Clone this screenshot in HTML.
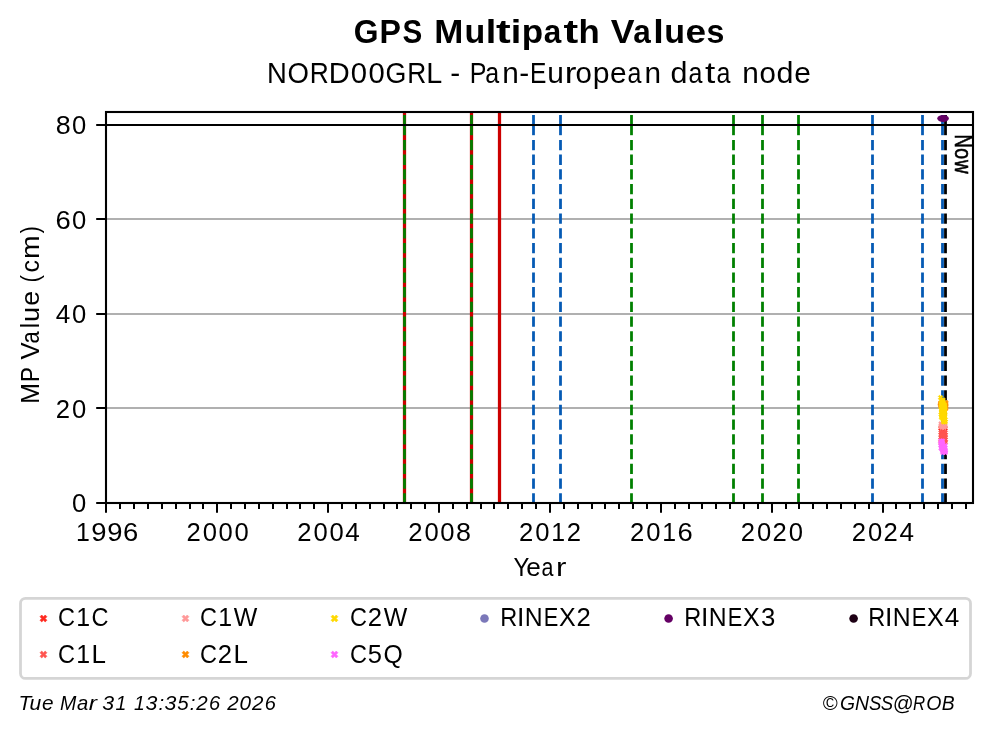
<!DOCTYPE html>
<html><head><meta charset="utf-8"><style>
html,body{margin:0;padding:0;background:#fff;width:993px;height:734px;overflow:hidden}
svg{display:block;will-change:transform}
text{font-family:"Liberation Sans",sans-serif;fill:#000}
</style></head><body>
<svg width="993" height="734" viewBox="0 0 993 734">
<rect width="993" height="734" fill="#fff"/>
<line x1="106" y1="408" x2="973" y2="408" stroke="#b0b0b0" stroke-width="2.1"/>
<line x1="106" y1="314" x2="973" y2="314" stroke="#b0b0b0" stroke-width="2.1"/>
<line x1="106" y1="219" x2="973" y2="219" stroke="#b0b0b0" stroke-width="2.1"/>
<line x1="404.5" y1="112" x2="404.5" y2="503" stroke="#cc0000" stroke-width="3.25"/>
<line x1="471.5" y1="112" x2="471.5" y2="503" stroke="#cc0000" stroke-width="3.25"/>
<line x1="499.5" y1="112" x2="499.5" y2="503" stroke="#cc0000" stroke-width="3.25"/>
<line x1="404.5" y1="115.0" x2="404.5" y2="135.2" stroke="#008000" stroke-width="2.78"/>
<line x1="404.5" y1="139.9" x2="404.5" y2="503" stroke="#008000" stroke-width="2.78" stroke-dasharray="10.28 4.44"/>
<line x1="471.5" y1="115.0" x2="471.5" y2="135.2" stroke="#008000" stroke-width="2.78"/>
<line x1="471.5" y1="139.9" x2="471.5" y2="503" stroke="#008000" stroke-width="2.78" stroke-dasharray="10.28 4.44"/>
<line x1="631.5" y1="115.0" x2="631.5" y2="135.2" stroke="#008000" stroke-width="2.78"/>
<line x1="631.5" y1="139.9" x2="631.5" y2="503" stroke="#008000" stroke-width="2.78" stroke-dasharray="10.28 4.44"/>
<line x1="733.5" y1="115.0" x2="733.5" y2="135.2" stroke="#008000" stroke-width="2.78"/>
<line x1="733.5" y1="139.9" x2="733.5" y2="503" stroke="#008000" stroke-width="2.78" stroke-dasharray="10.28 4.44"/>
<line x1="762.5" y1="115.0" x2="762.5" y2="135.2" stroke="#008000" stroke-width="2.78"/>
<line x1="762.5" y1="139.9" x2="762.5" y2="503" stroke="#008000" stroke-width="2.78" stroke-dasharray="10.28 4.44"/>
<line x1="798.5" y1="115.0" x2="798.5" y2="135.2" stroke="#008000" stroke-width="2.78"/>
<line x1="798.5" y1="139.9" x2="798.5" y2="503" stroke="#008000" stroke-width="2.78" stroke-dasharray="10.28 4.44"/>
<line x1="533.5" y1="115.0" x2="533.5" y2="135.2" stroke="#055ab4" stroke-width="2.78"/>
<line x1="533.5" y1="139.9" x2="533.5" y2="503" stroke="#055ab4" stroke-width="2.78" stroke-dasharray="10.28 4.44"/>
<line x1="560.5" y1="115.0" x2="560.5" y2="135.2" stroke="#055ab4" stroke-width="2.78"/>
<line x1="560.5" y1="139.9" x2="560.5" y2="503" stroke="#055ab4" stroke-width="2.78" stroke-dasharray="10.28 4.44"/>
<line x1="872.5" y1="115.0" x2="872.5" y2="135.2" stroke="#055ab4" stroke-width="2.78"/>
<line x1="872.5" y1="139.9" x2="872.5" y2="503" stroke="#055ab4" stroke-width="2.78" stroke-dasharray="10.28 4.44"/>
<line x1="922.5" y1="115.0" x2="922.5" y2="135.2" stroke="#055ab4" stroke-width="2.78"/>
<line x1="922.5" y1="139.9" x2="922.5" y2="503" stroke="#055ab4" stroke-width="2.78" stroke-dasharray="10.28 4.44"/>
<line x1="942.5" y1="115.0" x2="942.5" y2="135.2" stroke="#055ab4" stroke-width="2.78"/>
<line x1="942.5" y1="139.9" x2="942.5" y2="503" stroke="#055ab4" stroke-width="2.78" stroke-dasharray="10.28 4.44"/>
<line x1="945.5" y1="115.0" x2="945.5" y2="135.2" stroke="#000" stroke-width="2.78"/>
<line x1="945.5" y1="139.9" x2="945.5" y2="503" stroke="#000" stroke-width="2.78" stroke-dasharray="10.28 4.44"/>
<line x1="106" y1="125" x2="973" y2="125" stroke="#000" stroke-width="2.1"/>
<polygon points="939.85,425.50 941.00,426.65 942.15,425.50 943.30,426.65 942.15,427.80 943.30,428.95 942.15,430.10 941.00,428.95 939.85,430.10 938.70,428.95 939.85,427.80 938.70,426.65" fill="#ff2a20" stroke="#ff2a20" stroke-width="0.8" stroke-linejoin="round"/>
<polygon points="941.85,425.50 943.00,426.65 944.15,425.50 945.30,426.65 944.15,427.80 945.30,428.95 944.15,430.10 943.00,428.95 941.85,430.10 940.70,428.95 941.85,427.80 940.70,426.65" fill="#ff2a20" stroke="#ff2a20" stroke-width="0.8" stroke-linejoin="round"/>
<polygon points="943.85,425.50 945.00,426.65 946.15,425.50 947.30,426.65 946.15,427.80 947.30,428.95 946.15,430.10 945.00,428.95 943.85,430.10 942.70,428.95 943.85,427.80 942.70,426.65" fill="#ff2a20" stroke="#ff2a20" stroke-width="0.8" stroke-linejoin="round"/>
<polygon points="939.85,426.30 941.00,427.45 942.15,426.30 943.30,427.45 942.15,428.60 943.30,429.75 942.15,430.90 941.00,429.75 939.85,430.90 938.70,429.75 939.85,428.60 938.70,427.45" fill="#ff2a20" stroke="#ff2a20" stroke-width="0.8" stroke-linejoin="round"/>
<polygon points="941.85,426.30 943.00,427.45 944.15,426.30 945.30,427.45 944.15,428.60 945.30,429.75 944.15,430.90 943.00,429.75 941.85,430.90 940.70,429.75 941.85,428.60 940.70,427.45" fill="#ff2a20" stroke="#ff2a20" stroke-width="0.8" stroke-linejoin="round"/>
<polygon points="943.85,426.30 945.00,427.45 946.15,426.30 947.30,427.45 946.15,428.60 947.30,429.75 946.15,430.90 945.00,429.75 943.85,430.90 942.70,429.75 943.85,428.60 942.70,427.45" fill="#ff2a20" stroke="#ff2a20" stroke-width="0.8" stroke-linejoin="round"/>
<polygon points="939.85,430.20 941.00,431.35 942.15,430.20 943.30,431.35 942.15,432.50 943.30,433.65 942.15,434.80 941.00,433.65 939.85,434.80 938.70,433.65 939.85,432.50 938.70,431.35" fill="#ff5550" stroke="#ff5550" stroke-width="0.8" stroke-linejoin="round"/>
<polygon points="942.05,430.20 943.20,431.35 944.35,430.20 945.50,431.35 944.35,432.50 945.50,433.65 944.35,434.80 943.20,433.65 942.05,434.80 940.90,433.65 942.05,432.50 940.90,431.35" fill="#ff5550" stroke="#ff5550" stroke-width="0.8" stroke-linejoin="round"/>
<polygon points="944.15,430.20 945.30,431.35 946.45,430.20 947.60,431.35 946.45,432.50 947.60,433.65 946.45,434.80 945.30,433.65 944.15,434.80 943.00,433.65 944.15,432.50 943.00,431.35" fill="#ff5550" stroke="#ff5550" stroke-width="0.8" stroke-linejoin="round"/>
<polygon points="940.85,431.40 942.00,432.55 943.15,431.40 944.30,432.55 943.15,433.70 944.30,434.85 943.15,436.00 942.00,434.85 940.85,436.00 939.70,434.85 940.85,433.70 939.70,432.55" fill="#ff5550" stroke="#ff5550" stroke-width="0.8" stroke-linejoin="round"/>
<polygon points="943.15,431.40 944.30,432.55 945.45,431.40 946.60,432.55 945.45,433.70 946.60,434.85 945.45,436.00 944.30,434.85 943.15,436.00 942.00,434.85 943.15,433.70 942.00,432.55" fill="#ff5550" stroke="#ff5550" stroke-width="0.8" stroke-linejoin="round"/>
<polygon points="939.85,432.60 941.00,433.75 942.15,432.60 943.30,433.75 942.15,434.90 943.30,436.05 942.15,437.20 941.00,436.05 939.85,437.20 938.70,436.05 939.85,434.90 938.70,433.75" fill="#ff5550" stroke="#ff5550" stroke-width="0.8" stroke-linejoin="round"/>
<polygon points="942.05,432.60 943.20,433.75 944.35,432.60 945.50,433.75 944.35,434.90 945.50,436.05 944.35,437.20 943.20,436.05 942.05,437.20 940.90,436.05 942.05,434.90 940.90,433.75" fill="#ff5550" stroke="#ff5550" stroke-width="0.8" stroke-linejoin="round"/>
<polygon points="944.15,432.60 945.30,433.75 946.45,432.60 947.60,433.75 946.45,434.90 947.60,436.05 946.45,437.20 945.30,436.05 944.15,437.20 943.00,436.05 944.15,434.90 943.00,433.75" fill="#ff5550" stroke="#ff5550" stroke-width="0.8" stroke-linejoin="round"/>
<polygon points="940.85,433.80 942.00,434.95 943.15,433.80 944.30,434.95 943.15,436.10 944.30,437.25 943.15,438.40 942.00,437.25 940.85,438.40 939.70,437.25 940.85,436.10 939.70,434.95" fill="#ff5550" stroke="#ff5550" stroke-width="0.8" stroke-linejoin="round"/>
<polygon points="943.15,433.80 944.30,434.95 945.45,433.80 946.60,434.95 945.45,436.10 946.60,437.25 945.45,438.40 944.30,437.25 943.15,438.40 942.00,437.25 943.15,436.10 942.00,434.95" fill="#ff5550" stroke="#ff5550" stroke-width="0.8" stroke-linejoin="round"/>
<polygon points="939.85,435.00 941.00,436.15 942.15,435.00 943.30,436.15 942.15,437.30 943.30,438.45 942.15,439.60 941.00,438.45 939.85,439.60 938.70,438.45 939.85,437.30 938.70,436.15" fill="#ff5550" stroke="#ff5550" stroke-width="0.8" stroke-linejoin="round"/>
<polygon points="942.05,435.00 943.20,436.15 944.35,435.00 945.50,436.15 944.35,437.30 945.50,438.45 944.35,439.60 943.20,438.45 942.05,439.60 940.90,438.45 942.05,437.30 940.90,436.15" fill="#ff5550" stroke="#ff5550" stroke-width="0.8" stroke-linejoin="round"/>
<polygon points="944.15,435.00 945.30,436.15 946.45,435.00 947.60,436.15 946.45,437.30 947.60,438.45 946.45,439.60 945.30,438.45 944.15,439.60 943.00,438.45 944.15,437.30 943.00,436.15" fill="#ff5550" stroke="#ff5550" stroke-width="0.8" stroke-linejoin="round"/>
<polygon points="940.85,436.20 942.00,437.35 943.15,436.20 944.30,437.35 943.15,438.50 944.30,439.65 943.15,440.80 942.00,439.65 940.85,440.80 939.70,439.65 940.85,438.50 939.70,437.35" fill="#ff5550" stroke="#ff5550" stroke-width="0.8" stroke-linejoin="round"/>
<polygon points="943.15,436.20 944.30,437.35 945.45,436.20 946.60,437.35 945.45,438.50 946.60,439.65 945.45,440.80 944.30,439.65 943.15,440.80 942.00,439.65 943.15,438.50 942.00,437.35" fill="#ff5550" stroke="#ff5550" stroke-width="0.8" stroke-linejoin="round"/>
<polygon points="939.85,437.40 941.00,438.55 942.15,437.40 943.30,438.55 942.15,439.70 943.30,440.85 942.15,442.00 941.00,440.85 939.85,442.00 938.70,440.85 939.85,439.70 938.70,438.55" fill="#ff5550" stroke="#ff5550" stroke-width="0.8" stroke-linejoin="round"/>
<polygon points="942.05,437.40 943.20,438.55 944.35,437.40 945.50,438.55 944.35,439.70 945.50,440.85 944.35,442.00 943.20,440.85 942.05,442.00 940.90,440.85 942.05,439.70 940.90,438.55" fill="#ff5550" stroke="#ff5550" stroke-width="0.8" stroke-linejoin="round"/>
<polygon points="944.15,437.40 945.30,438.55 946.45,437.40 947.60,438.55 946.45,439.70 947.60,440.85 946.45,442.00 945.30,440.85 944.15,442.00 943.00,440.85 944.15,439.70 943.00,438.55" fill="#ff5550" stroke="#ff5550" stroke-width="0.8" stroke-linejoin="round"/>
<polygon points="940.85,438.60 942.00,439.75 943.15,438.60 944.30,439.75 943.15,440.90 944.30,442.05 943.15,443.20 942.00,442.05 940.85,443.20 939.70,442.05 940.85,440.90 939.70,439.75" fill="#ff5550" stroke="#ff5550" stroke-width="0.8" stroke-linejoin="round"/>
<polygon points="943.15,438.60 944.30,439.75 945.45,438.60 946.60,439.75 945.45,440.90 946.60,442.05 945.45,443.20 944.30,442.05 943.15,443.20 942.00,442.05 943.15,440.90 942.00,439.75" fill="#ff5550" stroke="#ff5550" stroke-width="0.8" stroke-linejoin="round"/>
<polygon points="939.85,439.80 941.00,440.95 942.15,439.80 943.30,440.95 942.15,442.10 943.30,443.25 942.15,444.40 941.00,443.25 939.85,444.40 938.70,443.25 939.85,442.10 938.70,440.95" fill="#ff5550" stroke="#ff5550" stroke-width="0.8" stroke-linejoin="round"/>
<polygon points="942.05,439.80 943.20,440.95 944.35,439.80 945.50,440.95 944.35,442.10 945.50,443.25 944.35,444.40 943.20,443.25 942.05,444.40 940.90,443.25 942.05,442.10 940.90,440.95" fill="#ff5550" stroke="#ff5550" stroke-width="0.8" stroke-linejoin="round"/>
<polygon points="944.15,439.80 945.30,440.95 946.45,439.80 947.60,440.95 946.45,442.10 947.60,443.25 946.45,444.40 945.30,443.25 944.15,444.40 943.00,443.25 944.15,442.10 943.00,440.95" fill="#ff5550" stroke="#ff5550" stroke-width="0.8" stroke-linejoin="round"/>
<polygon points="940.85,441.00 942.00,442.15 943.15,441.00 944.30,442.15 943.15,443.30 944.30,444.45 943.15,445.60 942.00,444.45 940.85,445.60 939.70,444.45 940.85,443.30 939.70,442.15" fill="#ff5550" stroke="#ff5550" stroke-width="0.8" stroke-linejoin="round"/>
<polygon points="943.15,441.00 944.30,442.15 945.45,441.00 946.60,442.15 945.45,443.30 946.60,444.45 945.45,445.60 944.30,444.45 943.15,445.60 942.00,444.45 943.15,443.30 942.00,442.15" fill="#ff5550" stroke="#ff5550" stroke-width="0.8" stroke-linejoin="round"/>
<polygon points="939.85,421.50 941.00,422.65 942.15,421.50 943.30,422.65 942.15,423.80 943.30,424.95 942.15,426.10 941.00,424.95 939.85,426.10 938.70,424.95 939.85,423.80 938.70,422.65" fill="#ff9999" stroke="#ff9999" stroke-width="0.8" stroke-linejoin="round"/>
<polygon points="941.85,421.50 943.00,422.65 944.15,421.50 945.30,422.65 944.15,423.80 945.30,424.95 944.15,426.10 943.00,424.95 941.85,426.10 940.70,424.95 941.85,423.80 940.70,422.65" fill="#ff9999" stroke="#ff9999" stroke-width="0.8" stroke-linejoin="round"/>
<polygon points="943.85,421.50 945.00,422.65 946.15,421.50 947.30,422.65 946.15,423.80 947.30,424.95 946.15,426.10 945.00,424.95 943.85,426.10 942.70,424.95 943.85,423.80 942.70,422.65" fill="#ff9999" stroke="#ff9999" stroke-width="0.8" stroke-linejoin="round"/>
<polygon points="940.85,422.70 942.00,423.85 943.15,422.70 944.30,423.85 943.15,425.00 944.30,426.15 943.15,427.30 942.00,426.15 940.85,427.30 939.70,426.15 940.85,425.00 939.70,423.85" fill="#ff9999" stroke="#ff9999" stroke-width="0.8" stroke-linejoin="round"/>
<polygon points="942.85,422.70 944.00,423.85 945.15,422.70 946.30,423.85 945.15,425.00 946.30,426.15 945.15,427.30 944.00,426.15 942.85,427.30 941.70,426.15 942.85,425.00 941.70,423.85" fill="#ff9999" stroke="#ff9999" stroke-width="0.8" stroke-linejoin="round"/>
<polygon points="939.85,423.90 941.00,425.05 942.15,423.90 943.30,425.05 942.15,426.20 943.30,427.35 942.15,428.50 941.00,427.35 939.85,428.50 938.70,427.35 939.85,426.20 938.70,425.05" fill="#ff9999" stroke="#ff9999" stroke-width="0.8" stroke-linejoin="round"/>
<polygon points="941.85,423.90 943.00,425.05 944.15,423.90 945.30,425.05 944.15,426.20 945.30,427.35 944.15,428.50 943.00,427.35 941.85,428.50 940.70,427.35 941.85,426.20 940.70,425.05" fill="#ff9999" stroke="#ff9999" stroke-width="0.8" stroke-linejoin="round"/>
<polygon points="943.85,423.90 945.00,425.05 946.15,423.90 947.30,425.05 946.15,426.20 947.30,427.35 946.15,428.50 945.00,427.35 943.85,428.50 942.70,427.35 943.85,426.20 942.70,425.05" fill="#ff9999" stroke="#ff9999" stroke-width="0.8" stroke-linejoin="round"/>
<polygon points="940.85,425.10 942.00,426.25 943.15,425.10 944.30,426.25 943.15,427.40 944.30,428.55 943.15,429.70 942.00,428.55 940.85,429.70 939.70,428.55 940.85,427.40 939.70,426.25" fill="#ff9999" stroke="#ff9999" stroke-width="0.8" stroke-linejoin="round"/>
<polygon points="942.85,425.10 944.00,426.25 945.15,425.10 946.30,426.25 945.15,427.40 946.30,428.55 945.15,429.70 944.00,428.55 942.85,429.70 941.70,428.55 942.85,427.40 941.70,426.25" fill="#ff9999" stroke="#ff9999" stroke-width="0.8" stroke-linejoin="round"/>
<polygon points="939.35,400.90 940.50,402.05 941.65,400.90 942.80,402.05 941.65,403.20 942.80,404.35 941.65,405.50 940.50,404.35 939.35,405.50 938.20,404.35 939.35,403.20 938.20,402.05" fill="#ff8c00" stroke="#ff8c00" stroke-width="0.8" stroke-linejoin="round"/>
<polygon points="939.35,402.10 940.50,403.25 941.65,402.10 942.80,403.25 941.65,404.40 942.80,405.55 941.65,406.70 940.50,405.55 939.35,406.70 938.20,405.55 939.35,404.40 938.20,403.25" fill="#ff8c00" stroke="#ff8c00" stroke-width="0.8" stroke-linejoin="round"/>
<polygon points="939.35,403.30 940.50,404.45 941.65,403.30 942.80,404.45 941.65,405.60 942.80,406.75 941.65,407.90 940.50,406.75 939.35,407.90 938.20,406.75 939.35,405.60 938.20,404.45" fill="#ff8c00" stroke="#ff8c00" stroke-width="0.8" stroke-linejoin="round"/>
<polygon points="944.65,400.20 945.80,401.35 946.95,400.20 948.10,401.35 946.95,402.50 948.10,403.65 946.95,404.80 945.80,403.65 944.65,404.80 943.50,403.65 944.65,402.50 943.50,401.35" fill="#ff8c00" stroke="#ff8c00" stroke-width="0.8" stroke-linejoin="round"/>
<polygon points="944.65,401.70 945.80,402.85 946.95,401.70 948.10,402.85 946.95,404.00 948.10,405.15 946.95,406.30 945.80,405.15 944.65,406.30 943.50,405.15 944.65,404.00 943.50,402.85" fill="#ff8c00" stroke="#ff8c00" stroke-width="0.8" stroke-linejoin="round"/>
<polygon points="944.65,403.20 945.80,404.35 946.95,403.20 948.10,404.35 946.95,405.50 948.10,406.65 946.95,407.80 945.80,406.65 944.65,407.80 943.50,406.65 944.65,405.50 943.50,404.35" fill="#ff8c00" stroke="#ff8c00" stroke-width="0.8" stroke-linejoin="round"/>
<polygon points="944.65,404.70 945.80,405.85 946.95,404.70 948.10,405.85 946.95,407.00 948.10,408.15 946.95,409.30 945.80,408.15 944.65,409.30 943.50,408.15 944.65,407.00 943.50,405.85" fill="#ff8c00" stroke="#ff8c00" stroke-width="0.8" stroke-linejoin="round"/>
<polygon points="944.65,406.20 945.80,407.35 946.95,406.20 948.10,407.35 946.95,408.50 948.10,409.65 946.95,410.80 945.80,409.65 944.65,410.80 943.50,409.65 944.65,408.50 943.50,407.35" fill="#ff8c00" stroke="#ff8c00" stroke-width="0.8" stroke-linejoin="round"/>
<polygon points="939.45,395.30 940.60,396.45 941.75,395.30 942.90,396.45 941.75,397.60 942.90,398.75 941.75,399.90 940.60,398.75 939.45,399.90 938.30,398.75 939.45,397.60 938.30,396.45" fill="#ffd900" stroke="#ffd900" stroke-width="0.8" stroke-linejoin="round"/>
<polygon points="940.65,397.70 941.80,398.85 942.95,397.70 944.10,398.85 942.95,400.00 944.10,401.15 942.95,402.30 941.80,401.15 940.65,402.30 939.50,401.15 940.65,400.00 939.50,398.85" fill="#ffd900" stroke="#ffd900" stroke-width="0.8" stroke-linejoin="round"/>
<polygon points="941.85,397.70 943.00,398.85 944.15,397.70 945.30,398.85 944.15,400.00 945.30,401.15 944.15,402.30 943.00,401.15 941.85,402.30 940.70,401.15 941.85,400.00 940.70,398.85" fill="#ffd900" stroke="#ffd900" stroke-width="0.8" stroke-linejoin="round"/>
<polygon points="940.65,398.90 941.80,400.05 942.95,398.90 944.10,400.05 942.95,401.20 944.10,402.35 942.95,403.50 941.80,402.35 940.65,403.50 939.50,402.35 940.65,401.20 939.50,400.05" fill="#ffd900" stroke="#ffd900" stroke-width="0.8" stroke-linejoin="round"/>
<polygon points="941.85,398.90 943.00,400.05 944.15,398.90 945.30,400.05 944.15,401.20 945.30,402.35 944.15,403.50 943.00,402.35 941.85,403.50 940.70,402.35 941.85,401.20 940.70,400.05" fill="#ffd900" stroke="#ffd900" stroke-width="0.8" stroke-linejoin="round"/>
<polygon points="940.65,400.10 941.80,401.25 942.95,400.10 944.10,401.25 942.95,402.40 944.10,403.55 942.95,404.70 941.80,403.55 940.65,404.70 939.50,403.55 940.65,402.40 939.50,401.25" fill="#ffd900" stroke="#ffd900" stroke-width="0.8" stroke-linejoin="round"/>
<polygon points="941.85,400.10 943.00,401.25 944.15,400.10 945.30,401.25 944.15,402.40 945.30,403.55 944.15,404.70 943.00,403.55 941.85,404.70 940.70,403.55 941.85,402.40 940.70,401.25" fill="#ffd900" stroke="#ffd900" stroke-width="0.8" stroke-linejoin="round"/>
<polygon points="940.65,401.30 941.80,402.45 942.95,401.30 944.10,402.45 942.95,403.60 944.10,404.75 942.95,405.90 941.80,404.75 940.65,405.90 939.50,404.75 940.65,403.60 939.50,402.45" fill="#ffd900" stroke="#ffd900" stroke-width="0.8" stroke-linejoin="round"/>
<polygon points="941.85,401.30 943.00,402.45 944.15,401.30 945.30,402.45 944.15,403.60 945.30,404.75 944.15,405.90 943.00,404.75 941.85,405.90 940.70,404.75 941.85,403.60 940.70,402.45" fill="#ffd900" stroke="#ffd900" stroke-width="0.8" stroke-linejoin="round"/>
<polygon points="940.15,402.70 941.30,403.85 942.45,402.70 943.60,403.85 942.45,405.00 943.60,406.15 942.45,407.30 941.30,406.15 940.15,407.30 939.00,406.15 940.15,405.00 939.00,403.85" fill="#ffd900" stroke="#ffd900" stroke-width="0.8" stroke-linejoin="round"/>
<polygon points="942.15,402.70 943.30,403.85 944.45,402.70 945.60,403.85 944.45,405.00 945.60,406.15 944.45,407.30 943.30,406.15 942.15,407.30 941.00,406.15 942.15,405.00 941.00,403.85" fill="#ffd900" stroke="#ffd900" stroke-width="0.8" stroke-linejoin="round"/>
<polygon points="943.45,402.70 944.60,403.85 945.75,402.70 946.90,403.85 945.75,405.00 946.90,406.15 945.75,407.30 944.60,406.15 943.45,407.30 942.30,406.15 943.45,405.00 942.30,403.85" fill="#ffd900" stroke="#ffd900" stroke-width="0.8" stroke-linejoin="round"/>
<polygon points="941.15,403.90 942.30,405.05 943.45,403.90 944.60,405.05 943.45,406.20 944.60,407.35 943.45,408.50 942.30,407.35 941.15,408.50 940.00,407.35 941.15,406.20 940.00,405.05" fill="#ffd900" stroke="#ffd900" stroke-width="0.8" stroke-linejoin="round"/>
<polygon points="943.25,403.90 944.40,405.05 945.55,403.90 946.70,405.05 945.55,406.20 946.70,407.35 945.55,408.50 944.40,407.35 943.25,408.50 942.10,407.35 943.25,406.20 942.10,405.05" fill="#ffd900" stroke="#ffd900" stroke-width="0.8" stroke-linejoin="round"/>
<polygon points="940.15,405.10 941.30,406.25 942.45,405.10 943.60,406.25 942.45,407.40 943.60,408.55 942.45,409.70 941.30,408.55 940.15,409.70 939.00,408.55 940.15,407.40 939.00,406.25" fill="#ffd900" stroke="#ffd900" stroke-width="0.8" stroke-linejoin="round"/>
<polygon points="942.15,405.10 943.30,406.25 944.45,405.10 945.60,406.25 944.45,407.40 945.60,408.55 944.45,409.70 943.30,408.55 942.15,409.70 941.00,408.55 942.15,407.40 941.00,406.25" fill="#ffd900" stroke="#ffd900" stroke-width="0.8" stroke-linejoin="round"/>
<polygon points="943.45,405.10 944.60,406.25 945.75,405.10 946.90,406.25 945.75,407.40 946.90,408.55 945.75,409.70 944.60,408.55 943.45,409.70 942.30,408.55 943.45,407.40 942.30,406.25" fill="#ffd900" stroke="#ffd900" stroke-width="0.8" stroke-linejoin="round"/>
<polygon points="941.15,406.30 942.30,407.45 943.45,406.30 944.60,407.45 943.45,408.60 944.60,409.75 943.45,410.90 942.30,409.75 941.15,410.90 940.00,409.75 941.15,408.60 940.00,407.45" fill="#ffd900" stroke="#ffd900" stroke-width="0.8" stroke-linejoin="round"/>
<polygon points="943.25,406.30 944.40,407.45 945.55,406.30 946.70,407.45 945.55,408.60 946.70,409.75 945.55,410.90 944.40,409.75 943.25,410.90 942.10,409.75 943.25,408.60 942.10,407.45" fill="#ffd900" stroke="#ffd900" stroke-width="0.8" stroke-linejoin="round"/>
<polygon points="940.15,407.50 941.30,408.65 942.45,407.50 943.60,408.65 942.45,409.80 943.60,410.95 942.45,412.10 941.30,410.95 940.15,412.10 939.00,410.95 940.15,409.80 939.00,408.65" fill="#ffd900" stroke="#ffd900" stroke-width="0.8" stroke-linejoin="round"/>
<polygon points="942.15,407.50 943.30,408.65 944.45,407.50 945.60,408.65 944.45,409.80 945.60,410.95 944.45,412.10 943.30,410.95 942.15,412.10 941.00,410.95 942.15,409.80 941.00,408.65" fill="#ffd900" stroke="#ffd900" stroke-width="0.8" stroke-linejoin="round"/>
<polygon points="943.45,407.50 944.60,408.65 945.75,407.50 946.90,408.65 945.75,409.80 946.90,410.95 945.75,412.10 944.60,410.95 943.45,412.10 942.30,410.95 943.45,409.80 942.30,408.65" fill="#ffd900" stroke="#ffd900" stroke-width="0.8" stroke-linejoin="round"/>
<polygon points="941.15,408.70 942.30,409.85 943.45,408.70 944.60,409.85 943.45,411.00 944.60,412.15 943.45,413.30 942.30,412.15 941.15,413.30 940.00,412.15 941.15,411.00 940.00,409.85" fill="#ffd900" stroke="#ffd900" stroke-width="0.8" stroke-linejoin="round"/>
<polygon points="943.25,408.70 944.40,409.85 945.55,408.70 946.70,409.85 945.55,411.00 946.70,412.15 945.55,413.30 944.40,412.15 943.25,413.30 942.10,412.15 943.25,411.00 942.10,409.85" fill="#ffd900" stroke="#ffd900" stroke-width="0.8" stroke-linejoin="round"/>
<polygon points="940.15,409.90 941.30,411.05 942.45,409.90 943.60,411.05 942.45,412.20 943.60,413.35 942.45,414.50 941.30,413.35 940.15,414.50 939.00,413.35 940.15,412.20 939.00,411.05" fill="#ffd900" stroke="#ffd900" stroke-width="0.8" stroke-linejoin="round"/>
<polygon points="942.15,409.90 943.30,411.05 944.45,409.90 945.60,411.05 944.45,412.20 945.60,413.35 944.45,414.50 943.30,413.35 942.15,414.50 941.00,413.35 942.15,412.20 941.00,411.05" fill="#ffd900" stroke="#ffd900" stroke-width="0.8" stroke-linejoin="round"/>
<polygon points="943.45,409.90 944.60,411.05 945.75,409.90 946.90,411.05 945.75,412.20 946.90,413.35 945.75,414.50 944.60,413.35 943.45,414.50 942.30,413.35 943.45,412.20 942.30,411.05" fill="#ffd900" stroke="#ffd900" stroke-width="0.8" stroke-linejoin="round"/>
<polygon points="941.15,411.10 942.30,412.25 943.45,411.10 944.60,412.25 943.45,413.40 944.60,414.55 943.45,415.70 942.30,414.55 941.15,415.70 940.00,414.55 941.15,413.40 940.00,412.25" fill="#ffd900" stroke="#ffd900" stroke-width="0.8" stroke-linejoin="round"/>
<polygon points="943.25,411.10 944.40,412.25 945.55,411.10 946.70,412.25 945.55,413.40 946.70,414.55 945.55,415.70 944.40,414.55 943.25,415.70 942.10,414.55 943.25,413.40 942.10,412.25" fill="#ffd900" stroke="#ffd900" stroke-width="0.8" stroke-linejoin="round"/>
<polygon points="940.15,412.30 941.30,413.45 942.45,412.30 943.60,413.45 942.45,414.60 943.60,415.75 942.45,416.90 941.30,415.75 940.15,416.90 939.00,415.75 940.15,414.60 939.00,413.45" fill="#ffd900" stroke="#ffd900" stroke-width="0.8" stroke-linejoin="round"/>
<polygon points="942.15,412.30 943.30,413.45 944.45,412.30 945.60,413.45 944.45,414.60 945.60,415.75 944.45,416.90 943.30,415.75 942.15,416.90 941.00,415.75 942.15,414.60 941.00,413.45" fill="#ffd900" stroke="#ffd900" stroke-width="0.8" stroke-linejoin="round"/>
<polygon points="943.45,412.30 944.60,413.45 945.75,412.30 946.90,413.45 945.75,414.60 946.90,415.75 945.75,416.90 944.60,415.75 943.45,416.90 942.30,415.75 943.45,414.60 942.30,413.45" fill="#ffd900" stroke="#ffd900" stroke-width="0.8" stroke-linejoin="round"/>
<polygon points="941.15,413.50 942.30,414.65 943.45,413.50 944.60,414.65 943.45,415.80 944.60,416.95 943.45,418.10 942.30,416.95 941.15,418.10 940.00,416.95 941.15,415.80 940.00,414.65" fill="#ffd900" stroke="#ffd900" stroke-width="0.8" stroke-linejoin="round"/>
<polygon points="943.25,413.50 944.40,414.65 945.55,413.50 946.70,414.65 945.55,415.80 946.70,416.95 945.55,418.10 944.40,416.95 943.25,418.10 942.10,416.95 943.25,415.80 942.10,414.65" fill="#ffd900" stroke="#ffd900" stroke-width="0.8" stroke-linejoin="round"/>
<polygon points="940.15,414.70 941.30,415.85 942.45,414.70 943.60,415.85 942.45,417.00 943.60,418.15 942.45,419.30 941.30,418.15 940.15,419.30 939.00,418.15 940.15,417.00 939.00,415.85" fill="#ffd900" stroke="#ffd900" stroke-width="0.8" stroke-linejoin="round"/>
<polygon points="942.15,414.70 943.30,415.85 944.45,414.70 945.60,415.85 944.45,417.00 945.60,418.15 944.45,419.30 943.30,418.15 942.15,419.30 941.00,418.15 942.15,417.00 941.00,415.85" fill="#ffd900" stroke="#ffd900" stroke-width="0.8" stroke-linejoin="round"/>
<polygon points="943.45,414.70 944.60,415.85 945.75,414.70 946.90,415.85 945.75,417.00 946.90,418.15 945.75,419.30 944.60,418.15 943.45,419.30 942.30,418.15 943.45,417.00 942.30,415.85" fill="#ffd900" stroke="#ffd900" stroke-width="0.8" stroke-linejoin="round"/>
<polygon points="941.15,415.90 942.30,417.05 943.45,415.90 944.60,417.05 943.45,418.20 944.60,419.35 943.45,420.50 942.30,419.35 941.15,420.50 940.00,419.35 941.15,418.20 940.00,417.05" fill="#ffd900" stroke="#ffd900" stroke-width="0.8" stroke-linejoin="round"/>
<polygon points="943.25,415.90 944.40,417.05 945.55,415.90 946.70,417.05 945.55,418.20 946.70,419.35 945.55,420.50 944.40,419.35 943.25,420.50 942.10,419.35 943.25,418.20 942.10,417.05" fill="#ffd900" stroke="#ffd900" stroke-width="0.8" stroke-linejoin="round"/>
<polygon points="942.35,417.20 943.50,418.35 944.65,417.20 945.80,418.35 944.65,419.50 945.80,420.65 944.65,421.80 943.50,420.65 942.35,421.80 941.20,420.65 942.35,419.50 941.20,418.35" fill="#ffd900" stroke="#ffd900" stroke-width="0.8" stroke-linejoin="round"/>
<polygon points="944.15,417.20 945.30,418.35 946.45,417.20 947.60,418.35 946.45,419.50 947.60,420.65 946.45,421.80 945.30,420.65 944.15,421.80 943.00,420.65 944.15,419.50 943.00,418.35" fill="#ffd900" stroke="#ffd900" stroke-width="0.8" stroke-linejoin="round"/>
<polygon points="942.85,418.40 944.00,419.55 945.15,418.40 946.30,419.55 945.15,420.70 946.30,421.85 945.15,423.00 944.00,421.85 942.85,423.00 941.70,421.85 942.85,420.70 941.70,419.55" fill="#ffd900" stroke="#ffd900" stroke-width="0.8" stroke-linejoin="round"/>
<polygon points="942.35,419.60 943.50,420.75 944.65,419.60 945.80,420.75 944.65,421.90 945.80,423.05 944.65,424.20 943.50,423.05 942.35,424.20 941.20,423.05 942.35,421.90 941.20,420.75" fill="#ffd900" stroke="#ffd900" stroke-width="0.8" stroke-linejoin="round"/>
<polygon points="944.15,419.60 945.30,420.75 946.45,419.60 947.60,420.75 946.45,421.90 947.60,423.05 946.45,424.20 945.30,423.05 944.15,424.20 943.00,423.05 944.15,421.90 943.00,420.75" fill="#ffd900" stroke="#ffd900" stroke-width="0.8" stroke-linejoin="round"/>
<polygon points="939.65,438.70 940.80,439.85 941.95,438.70 943.10,439.85 941.95,441.00 943.10,442.15 941.95,443.30 940.80,442.15 939.65,443.30 938.50,442.15 939.65,441.00 938.50,439.85" fill="#ff66ff" stroke="#ff66ff" stroke-width="0.8" stroke-linejoin="round"/>
<polygon points="941.45,438.70 942.60,439.85 943.75,438.70 944.90,439.85 943.75,441.00 944.90,442.15 943.75,443.30 942.60,442.15 941.45,443.30 940.30,442.15 941.45,441.00 940.30,439.85" fill="#ff66ff" stroke="#ff66ff" stroke-width="0.8" stroke-linejoin="round"/>
<polygon points="940.45,439.90 941.60,441.05 942.75,439.90 943.90,441.05 942.75,442.20 943.90,443.35 942.75,444.50 941.60,443.35 940.45,444.50 939.30,443.35 940.45,442.20 939.30,441.05" fill="#ff66ff" stroke="#ff66ff" stroke-width="0.8" stroke-linejoin="round"/>
<polygon points="939.65,441.10 940.80,442.25 941.95,441.10 943.10,442.25 941.95,443.40 943.10,444.55 941.95,445.70 940.80,444.55 939.65,445.70 938.50,444.55 939.65,443.40 938.50,442.25" fill="#ff66ff" stroke="#ff66ff" stroke-width="0.8" stroke-linejoin="round"/>
<polygon points="941.45,441.10 942.60,442.25 943.75,441.10 944.90,442.25 943.75,443.40 944.90,444.55 943.75,445.70 942.60,444.55 941.45,445.70 940.30,444.55 941.45,443.40 940.30,442.25" fill="#ff66ff" stroke="#ff66ff" stroke-width="0.8" stroke-linejoin="round"/>
<polygon points="940.45,442.30 941.60,443.45 942.75,442.30 943.90,443.45 942.75,444.60 943.90,445.75 942.75,446.90 941.60,445.75 940.45,446.90 939.30,445.75 940.45,444.60 939.30,443.45" fill="#ff66ff" stroke="#ff66ff" stroke-width="0.8" stroke-linejoin="round"/>
<polygon points="939.85,443.30 941.00,444.45 942.15,443.30 943.30,444.45 942.15,445.60 943.30,446.75 942.15,447.90 941.00,446.75 939.85,447.90 938.70,446.75 939.85,445.60 938.70,444.45" fill="#ff66ff" stroke="#ff66ff" stroke-width="0.8" stroke-linejoin="round"/>
<polygon points="941.95,443.30 943.10,444.45 944.25,443.30 945.40,444.45 944.25,445.60 945.40,446.75 944.25,447.90 943.10,446.75 941.95,447.90 940.80,446.75 941.95,445.60 940.80,444.45" fill="#ff66ff" stroke="#ff66ff" stroke-width="0.8" stroke-linejoin="round"/>
<polygon points="943.85,443.30 945.00,444.45 946.15,443.30 947.30,444.45 946.15,445.60 947.30,446.75 946.15,447.90 945.00,446.75 943.85,447.90 942.70,446.75 943.85,445.60 942.70,444.45" fill="#ff66ff" stroke="#ff66ff" stroke-width="0.8" stroke-linejoin="round"/>
<polygon points="940.85,444.50 942.00,445.65 943.15,444.50 944.30,445.65 943.15,446.80 944.30,447.95 943.15,449.10 942.00,447.95 940.85,449.10 939.70,447.95 940.85,446.80 939.70,445.65" fill="#ff66ff" stroke="#ff66ff" stroke-width="0.8" stroke-linejoin="round"/>
<polygon points="943.05,444.50 944.20,445.65 945.35,444.50 946.50,445.65 945.35,446.80 946.50,447.95 945.35,449.10 944.20,447.95 943.05,449.10 941.90,447.95 943.05,446.80 941.90,445.65" fill="#ff66ff" stroke="#ff66ff" stroke-width="0.8" stroke-linejoin="round"/>
<polygon points="939.85,445.70 941.00,446.85 942.15,445.70 943.30,446.85 942.15,448.00 943.30,449.15 942.15,450.30 941.00,449.15 939.85,450.30 938.70,449.15 939.85,448.00 938.70,446.85" fill="#ff66ff" stroke="#ff66ff" stroke-width="0.8" stroke-linejoin="round"/>
<polygon points="941.95,445.70 943.10,446.85 944.25,445.70 945.40,446.85 944.25,448.00 945.40,449.15 944.25,450.30 943.10,449.15 941.95,450.30 940.80,449.15 941.95,448.00 940.80,446.85" fill="#ff66ff" stroke="#ff66ff" stroke-width="0.8" stroke-linejoin="round"/>
<polygon points="943.85,445.70 945.00,446.85 946.15,445.70 947.30,446.85 946.15,448.00 947.30,449.15 946.15,450.30 945.00,449.15 943.85,450.30 942.70,449.15 943.85,448.00 942.70,446.85" fill="#ff66ff" stroke="#ff66ff" stroke-width="0.8" stroke-linejoin="round"/>
<polygon points="940.85,446.90 942.00,448.05 943.15,446.90 944.30,448.05 943.15,449.20 944.30,450.35 943.15,451.50 942.00,450.35 940.85,451.50 939.70,450.35 940.85,449.20 939.70,448.05" fill="#ff66ff" stroke="#ff66ff" stroke-width="0.8" stroke-linejoin="round"/>
<polygon points="943.05,446.90 944.20,448.05 945.35,446.90 946.50,448.05 945.35,449.20 946.50,450.35 945.35,451.50 944.20,450.35 943.05,451.50 941.90,450.35 943.05,449.20 941.90,448.05" fill="#ff66ff" stroke="#ff66ff" stroke-width="0.8" stroke-linejoin="round"/>
<polygon points="941.65,447.90 942.80,449.05 943.95,447.90 945.10,449.05 943.95,450.20 945.10,451.35 943.95,452.50 942.80,451.35 941.65,452.50 940.50,451.35 941.65,450.20 940.50,449.05" fill="#ff66ff" stroke="#ff66ff" stroke-width="0.8" stroke-linejoin="round"/>
<polygon points="944.15,447.90 945.30,449.05 946.45,447.90 947.60,449.05 946.45,450.20 947.60,451.35 946.45,452.50 945.30,451.35 944.15,452.50 943.00,451.35 944.15,450.20 943.00,449.05" fill="#ff66ff" stroke="#ff66ff" stroke-width="0.8" stroke-linejoin="round"/>
<polygon points="941.65,449.10 942.80,450.25 943.95,449.10 945.10,450.25 943.95,451.40 945.10,452.55 943.95,453.70 942.80,452.55 941.65,453.70 940.50,452.55 941.65,451.40 940.50,450.25" fill="#ff66ff" stroke="#ff66ff" stroke-width="0.8" stroke-linejoin="round"/>
<polygon points="944.15,449.10 945.30,450.25 946.45,449.10 947.60,450.25 946.45,451.40 947.60,452.55 946.45,453.70 945.30,452.55 944.15,453.70 943.00,452.55 944.15,451.40 943.00,450.25" fill="#ff66ff" stroke="#ff66ff" stroke-width="0.8" stroke-linejoin="round"/>
<polygon points="941.65,450.30 942.80,451.45 943.95,450.30 945.10,451.45 943.95,452.60 945.10,453.75 943.95,454.90 942.80,453.75 941.65,454.90 940.50,453.75 941.65,452.60 940.50,451.45" fill="#ff66ff" stroke="#ff66ff" stroke-width="0.8" stroke-linejoin="round"/>
<polygon points="944.15,450.30 945.30,451.45 946.45,450.30 947.60,451.45 946.45,452.60 947.60,453.75 946.45,454.90 945.30,453.75 944.15,454.90 943.00,453.75 944.15,452.60 943.00,451.45" fill="#ff66ff" stroke="#ff66ff" stroke-width="0.8" stroke-linejoin="round"/>
<ellipse cx="943.05" cy="118.45" rx="5.8" ry="3.45" fill="#640064"/>
<rect x="106" y="112" width="867" height="391" fill="none" stroke="#000" stroke-width="2.1"/>
<line x1="106" y1="503" x2="106" y2="512.80" stroke="#000" stroke-width="2"/>
<line x1="120" y1="503" x2="120" y2="508.90" stroke="#000" stroke-width="2"/>
<line x1="134" y1="503" x2="134" y2="508.90" stroke="#000" stroke-width="2"/>
<line x1="148" y1="503" x2="148" y2="508.90" stroke="#000" stroke-width="2"/>
<line x1="162" y1="503" x2="162" y2="508.90" stroke="#000" stroke-width="2"/>
<line x1="176" y1="503" x2="176" y2="508.90" stroke="#000" stroke-width="2"/>
<line x1="190" y1="503" x2="190" y2="508.90" stroke="#000" stroke-width="2"/>
<line x1="203" y1="503" x2="203" y2="508.90" stroke="#000" stroke-width="2"/>
<line x1="217" y1="503" x2="217" y2="512.80" stroke="#000" stroke-width="2"/>
<line x1="231" y1="503" x2="231" y2="508.90" stroke="#000" stroke-width="2"/>
<line x1="245" y1="503" x2="245" y2="508.90" stroke="#000" stroke-width="2"/>
<line x1="259" y1="503" x2="259" y2="508.90" stroke="#000" stroke-width="2"/>
<line x1="273" y1="503" x2="273" y2="508.90" stroke="#000" stroke-width="2"/>
<line x1="287" y1="503" x2="287" y2="508.90" stroke="#000" stroke-width="2"/>
<line x1="300" y1="503" x2="300" y2="508.90" stroke="#000" stroke-width="2"/>
<line x1="314" y1="503" x2="314" y2="508.90" stroke="#000" stroke-width="2"/>
<line x1="328" y1="503" x2="328" y2="512.80" stroke="#000" stroke-width="2"/>
<line x1="342" y1="503" x2="342" y2="508.90" stroke="#000" stroke-width="2"/>
<line x1="356" y1="503" x2="356" y2="508.90" stroke="#000" stroke-width="2"/>
<line x1="370" y1="503" x2="370" y2="508.90" stroke="#000" stroke-width="2"/>
<line x1="384" y1="503" x2="384" y2="508.90" stroke="#000" stroke-width="2"/>
<line x1="397" y1="503" x2="397" y2="508.90" stroke="#000" stroke-width="2"/>
<line x1="411" y1="503" x2="411" y2="508.90" stroke="#000" stroke-width="2"/>
<line x1="425" y1="503" x2="425" y2="508.90" stroke="#000" stroke-width="2"/>
<line x1="439" y1="503" x2="439" y2="512.80" stroke="#000" stroke-width="2"/>
<line x1="453" y1="503" x2="453" y2="508.90" stroke="#000" stroke-width="2"/>
<line x1="467" y1="503" x2="467" y2="508.90" stroke="#000" stroke-width="2"/>
<line x1="481" y1="503" x2="481" y2="508.90" stroke="#000" stroke-width="2"/>
<line x1="494" y1="503" x2="494" y2="508.90" stroke="#000" stroke-width="2"/>
<line x1="508" y1="503" x2="508" y2="508.90" stroke="#000" stroke-width="2"/>
<line x1="522" y1="503" x2="522" y2="508.90" stroke="#000" stroke-width="2"/>
<line x1="536" y1="503" x2="536" y2="508.90" stroke="#000" stroke-width="2"/>
<line x1="550" y1="503" x2="550" y2="512.80" stroke="#000" stroke-width="2"/>
<line x1="564" y1="503" x2="564" y2="508.90" stroke="#000" stroke-width="2"/>
<line x1="578" y1="503" x2="578" y2="508.90" stroke="#000" stroke-width="2"/>
<line x1="592" y1="503" x2="592" y2="508.90" stroke="#000" stroke-width="2"/>
<line x1="605" y1="503" x2="605" y2="508.90" stroke="#000" stroke-width="2"/>
<line x1="619" y1="503" x2="619" y2="508.90" stroke="#000" stroke-width="2"/>
<line x1="633" y1="503" x2="633" y2="508.90" stroke="#000" stroke-width="2"/>
<line x1="647" y1="503" x2="647" y2="508.90" stroke="#000" stroke-width="2"/>
<line x1="661" y1="503" x2="661" y2="512.80" stroke="#000" stroke-width="2"/>
<line x1="675" y1="503" x2="675" y2="508.90" stroke="#000" stroke-width="2"/>
<line x1="689" y1="503" x2="689" y2="508.90" stroke="#000" stroke-width="2"/>
<line x1="702" y1="503" x2="702" y2="508.90" stroke="#000" stroke-width="2"/>
<line x1="716" y1="503" x2="716" y2="508.90" stroke="#000" stroke-width="2"/>
<line x1="730" y1="503" x2="730" y2="508.90" stroke="#000" stroke-width="2"/>
<line x1="744" y1="503" x2="744" y2="508.90" stroke="#000" stroke-width="2"/>
<line x1="758" y1="503" x2="758" y2="508.90" stroke="#000" stroke-width="2"/>
<line x1="772" y1="503" x2="772" y2="512.80" stroke="#000" stroke-width="2"/>
<line x1="786" y1="503" x2="786" y2="508.90" stroke="#000" stroke-width="2"/>
<line x1="799" y1="503" x2="799" y2="508.90" stroke="#000" stroke-width="2"/>
<line x1="813" y1="503" x2="813" y2="508.90" stroke="#000" stroke-width="2"/>
<line x1="827" y1="503" x2="827" y2="508.90" stroke="#000" stroke-width="2"/>
<line x1="841" y1="503" x2="841" y2="508.90" stroke="#000" stroke-width="2"/>
<line x1="855" y1="503" x2="855" y2="508.90" stroke="#000" stroke-width="2"/>
<line x1="869" y1="503" x2="869" y2="508.90" stroke="#000" stroke-width="2"/>
<line x1="883" y1="503" x2="883" y2="512.80" stroke="#000" stroke-width="2"/>
<line x1="896" y1="503" x2="896" y2="508.90" stroke="#000" stroke-width="2"/>
<line x1="910" y1="503" x2="910" y2="508.90" stroke="#000" stroke-width="2"/>
<line x1="924" y1="503" x2="924" y2="508.90" stroke="#000" stroke-width="2"/>
<line x1="938" y1="503" x2="938" y2="508.90" stroke="#000" stroke-width="2"/>
<line x1="952" y1="503" x2="952" y2="508.90" stroke="#000" stroke-width="2"/>
<line x1="966" y1="503" x2="966" y2="508.90" stroke="#000" stroke-width="2"/>
<line x1="96.20" y1="503" x2="106" y2="503" stroke="#000" stroke-width="2"/>
<line x1="96.20" y1="408" x2="106" y2="408" stroke="#000" stroke-width="2"/>
<line x1="96.20" y1="314" x2="106" y2="314" stroke="#000" stroke-width="2"/>
<line x1="96.20" y1="219" x2="106" y2="219" stroke="#000" stroke-width="2"/>
<line x1="96.20" y1="125" x2="106" y2="125" stroke="#000" stroke-width="2"/>
<rect x="20.5" y="598.4" width="950" height="80" rx="5" fill="#fff" stroke="#d5d5d5" stroke-width="2.8"/>
<polygon points="41.73,615.01 43.46,616.74 45.19,615.01 46.91,616.74 45.19,618.46 46.91,620.19 45.19,621.91 43.46,620.19 41.73,621.91 40.01,620.19 41.73,618.46 40.01,616.74" fill="#ff2a20" stroke="#ff2a20" stroke-width="0.6" stroke-linejoin="round"/>
<polygon points="41.73,651.05 43.46,652.77 45.19,651.05 46.91,652.77 45.19,654.50 46.91,656.23 45.19,657.95 43.46,656.23 41.73,657.95 40.01,656.23 41.73,654.50 40.01,652.77" fill="#ff5550" stroke="#ff5550" stroke-width="0.6" stroke-linejoin="round"/>
<polygon points="183.78,615.01 185.50,616.74 187.22,615.01 188.95,616.74 187.22,618.46 188.95,620.19 187.22,621.91 185.50,620.19 183.78,621.91 182.05,620.19 183.78,618.46 182.05,616.74" fill="#ff9999" stroke="#ff9999" stroke-width="0.6" stroke-linejoin="round"/>
<polygon points="183.78,651.05 185.50,652.77 187.22,651.05 188.95,652.77 187.22,654.50 188.95,656.23 187.22,657.95 185.50,656.23 183.78,657.95 182.05,656.23 183.78,654.50 182.05,652.77" fill="#ff8c00" stroke="#ff8c00" stroke-width="0.6" stroke-linejoin="round"/>
<polygon points="332.77,615.01 334.50,616.74 336.23,615.01 337.95,616.74 336.23,618.46 337.95,620.19 336.23,621.91 334.50,620.19 332.77,621.91 331.05,620.19 332.77,618.46 331.05,616.74" fill="#ffd900" stroke="#ffd900" stroke-width="0.6" stroke-linejoin="round"/>
<polygon points="332.77,651.05 334.50,652.77 336.23,651.05 337.95,652.77 336.23,654.50 337.95,656.23 336.23,657.95 334.50,656.23 332.77,657.95 331.05,656.23 332.77,654.50 331.05,652.77" fill="#ff66ff" stroke="#ff66ff" stroke-width="0.6" stroke-linejoin="round"/>
<circle cx="484.5" cy="618.46" r="4.3" fill="#7b78b9"/>
<circle cx="668.6" cy="618.46" r="4.3" fill="#640064"/>
<circle cx="853.6" cy="618.46" r="4.3" fill="#1e0014"/>
<g style="font-size:32.55px;font-weight:bold"><text transform="translate(353.74,43.00) scale(0.978,1)">G</text><text transform="translate(379.44,43.00) scale(0.988,1)">P</text><text transform="translate(402.41,43.00) scale(0.910,1)">S</text><text transform="translate(434.31,43.00) scale(1.072,1)">M</text><text transform="translate(464.45,43.00) scale(1.045,1)">u</text><text transform="translate(485.64,43.00) scale(1.165,1)">l</text><text transform="translate(496.08,43.00) scale(1.357,1)">t</text><text transform="translate(510.72,43.00) scale(1.165,1)">i</text><text transform="translate(521.82,43.00) scale(1.076,1)">p</text><text transform="translate(543.70,43.00) scale(0.967,1)">a</text><text transform="translate(563.62,43.00) scale(1.357,1)">t</text><text transform="translate(578.50,43.00) scale(1.068,1)">h</text><text transform="translate(610.68,43.00) scale(1.096,1)">V</text><text transform="translate(633.26,43.00) scale(0.967,1)">a</text><text transform="translate(653.24,43.00) scale(1.165,1)">l</text><text transform="translate(664.27,43.00) scale(1.045,1)">u</text><text transform="translate(685.41,43.00) scale(1.137,1)">e</text><text transform="translate(706.49,43.00) scale(0.987,1)">s</text></g>
<g style="font-size:29.59px"><text transform="translate(267.01,82.90) scale(0.927,1)">N</text><text transform="translate(287.59,82.90) scale(0.931,1)">O</text><text transform="translate(309.71,82.90) scale(0.890,1)">R</text><text transform="translate(328.79,82.90) scale(0.981,1)">D</text><text transform="translate(350.74,82.90) scale(0.989,1)">0</text><text transform="translate(368.40,82.90) scale(0.989,1)">0</text><text transform="translate(385.43,82.90) scale(0.907,1)">G</text><text transform="translate(407.25,82.90) scale(0.890,1)">R</text><text transform="translate(426.33,82.90) scale(0.971,1)">L</text><text transform="translate(450.32,82.90) scale(1.010,1)">-</text><text transform="translate(469.78,82.90) scale(0.846,1)">P</text><text transform="translate(485.24,82.90) scale(0.846,1)">a</text><text transform="translate(502.30,82.90) scale(1.006,1)">n</text><text transform="translate(519.27,82.90) scale(1.010,1)">-</text><text transform="translate(529.94,82.90) scale(0.831,1)">E</text><text transform="translate(547.36,82.90) scale(1.010,1)">u</text><text transform="translate(564.71,82.90) scale(1.185,1)">r</text><text transform="translate(575.50,82.90) scale(0.996,1)">o</text><text transform="translate(592.86,82.90) scale(1.018,1)">p</text><text transform="translate(610.09,82.90) scale(1.010,1)">e</text><text transform="translate(627.50,82.90) scale(0.846,1)">a</text><text transform="translate(644.57,82.90) scale(1.006,1)">n</text><text transform="translate(670.58,82.90) scale(1.029,1)">d</text><text transform="translate(688.57,82.90) scale(0.846,1)">a</text><text transform="translate(705.11,82.90) scale(1.252,1)">t</text><text transform="translate(716.47,82.90) scale(0.846,1)">a</text><text transform="translate(742.36,82.90) scale(1.006,1)">n</text><text transform="translate(759.59,82.90) scale(0.996,1)">o</text><text transform="translate(776.53,82.90) scale(1.029,1)">d</text><text transform="translate(794.18,82.90) scale(1.010,1)">e</text></g>
<g style="font-size:26.62px"><text transform="translate(71.90,511.60) scale(0.962,1)">0</text></g>
<g style="font-size:26.62px"><text transform="translate(55.64,417.90) scale(0.963,1)">2</text><text transform="translate(71.88,417.90) scale(0.962,1)">0</text></g>
<g style="font-size:26.62px"><text transform="translate(55.85,322.80) scale(0.981,1)">4</text><text transform="translate(71.88,322.80) scale(0.962,1)">0</text></g>
<g style="font-size:26.62px"><text transform="translate(55.50,228.60) scale(1.030,1)">6</text><text transform="translate(71.88,228.60) scale(0.962,1)">0</text></g>
<g style="font-size:26.62px"><text transform="translate(55.66,133.80) scale(1.010,1)">8</text><text transform="translate(71.88,133.80) scale(0.962,1)">0</text></g>
<g style="font-size:26.62px"><text transform="translate(76.05,540.80) scale(0.935,1)">1</text><text transform="translate(91.23,540.80) scale(1.029,1)">9</text><text transform="translate(107.13,540.80) scale(1.029,1)">9</text><text transform="translate(123.10,540.80) scale(1.030,1)">6</text></g>
<g style="font-size:26.62px"><text transform="translate(186.42,540.80) scale(0.963,1)">2</text><text transform="translate(202.66,540.80) scale(0.962,1)">0</text><text transform="translate(218.57,540.80) scale(0.962,1)">0</text><text transform="translate(234.47,540.80) scale(0.962,1)">0</text></g>
<g style="font-size:26.62px"><text transform="translate(297.30,540.80) scale(0.963,1)">2</text><text transform="translate(313.54,540.80) scale(0.962,1)">0</text><text transform="translate(329.45,540.80) scale(0.962,1)">0</text><text transform="translate(345.22,540.80) scale(0.981,1)">4</text></g>
<g style="font-size:26.62px"><text transform="translate(408.18,540.80) scale(0.963,1)">2</text><text transform="translate(424.42,540.80) scale(0.962,1)">0</text><text transform="translate(440.33,540.80) scale(0.962,1)">0</text><text transform="translate(455.90,540.80) scale(1.010,1)">8</text></g>
<g style="font-size:26.62px"><text transform="translate(519.06,540.80) scale(0.963,1)">2</text><text transform="translate(535.30,540.80) scale(0.962,1)">0</text><text transform="translate(551.36,540.80) scale(0.935,1)">1</text><text transform="translate(566.77,540.80) scale(0.963,1)">2</text></g>
<g style="font-size:26.62px"><text transform="translate(629.94,540.80) scale(0.963,1)">2</text><text transform="translate(646.18,540.80) scale(0.962,1)">0</text><text transform="translate(662.24,540.80) scale(0.935,1)">1</text><text transform="translate(677.50,540.80) scale(1.030,1)">6</text></g>
<g style="font-size:26.62px"><text transform="translate(740.82,540.80) scale(0.963,1)">2</text><text transform="translate(757.06,540.80) scale(0.962,1)">0</text><text transform="translate(772.62,540.80) scale(0.963,1)">2</text><text transform="translate(788.87,540.80) scale(0.962,1)">0</text></g>
<g style="font-size:26.62px"><text transform="translate(851.70,540.80) scale(0.963,1)">2</text><text transform="translate(867.94,540.80) scale(0.962,1)">0</text><text transform="translate(883.50,540.80) scale(0.963,1)">2</text><text transform="translate(899.62,540.80) scale(0.981,1)">4</text></g>
<g style="font-size:26.62px"><text transform="translate(513.56,575.50) scale(0.894,1)">Y</text><text transform="translate(526.16,575.50) scale(0.982,1)">e</text><text transform="translate(541.54,575.50) scale(0.806,1)">a</text><text transform="translate(555.97,575.50) scale(1.171,1)">r</text></g>
<g style="font-size:26.62px" transform="translate(39.20,401.60) rotate(-90)"><text transform="translate(-2.12,0.00) scale(0.937,1)">M</text><text transform="translate(19.67,0.00) scale(0.836,1)">P</text><text transform="translate(42.15,0.00) scale(0.970,1)">V</text><text transform="translate(58.05,0.00) scale(0.822,1)">a</text><text transform="translate(73.37,0.00) scale(0.909,1)">l</text><text transform="translate(79.68,0.00) scale(1.023,1)">u</text><text transform="translate(95.87,0.00) scale(1.001,1)">e</text><text transform="translate(119.21,0.00) scale(0.842,1)">(</text><text transform="translate(129.01,0.00) scale(0.939,1)">c</text><text transform="translate(142.62,0.00) scale(1.069,1)">m</text><text transform="translate(168.36,0.00) scale(0.795,1)">)</text></g>
<g style="font-size:24.5px;stroke:#000;stroke-width:0.6px" transform="translate(955.20,136.00) rotate(90)"><text transform="translate(-1.43,0.00) scale(0.750,1)">N</text><text transform="translate(12.31,0.00) scale(0.798,1)">o</text><text transform="translate(24.02,0.00) scale(0.768,1)">w</text></g>
<g style="font-size:26.62px"><text transform="translate(58.08,626.10) scale(0.883,1)">C</text><text transform="translate(76.26,626.10) scale(0.935,1)">1</text><text transform="translate(91.44,626.10) scale(0.883,1)">C</text></g>
<g style="font-size:26.62px"><text transform="translate(58.08,662.50) scale(0.883,1)">C</text><text transform="translate(76.26,662.50) scale(0.935,1)">1</text><text transform="translate(91.50,662.50) scale(0.975,1)">L</text></g>
<g style="font-size:26.62px"><text transform="translate(200.08,626.10) scale(0.883,1)">C</text><text transform="translate(218.26,626.10) scale(0.935,1)">1</text><text transform="translate(233.76,626.10) scale(0.937,1)">W</text></g>
<g style="font-size:26.62px"><text transform="translate(200.08,662.50) scale(0.883,1)">C</text><text transform="translate(217.76,662.50) scale(0.963,1)">2</text><text transform="translate(233.50,662.50) scale(0.975,1)">L</text></g>
<g style="font-size:26.62px"><text transform="translate(350.08,626.10) scale(0.883,1)">C</text><text transform="translate(367.76,626.10) scale(0.963,1)">2</text><text transform="translate(383.76,626.10) scale(0.937,1)">W</text></g>
<g style="font-size:26.62px"><text transform="translate(350.08,662.50) scale(0.883,1)">C</text><text transform="translate(367.86,662.50) scale(0.960,1)">5</text><text transform="translate(383.43,662.50) scale(0.931,1)">Q</text></g>
<g style="font-size:26.62px"><text transform="translate(500.14,626.10) scale(0.885,1)">R</text><text transform="translate(517.01,626.10) scale(1.000,1)">I</text><text transform="translate(524.78,626.10) scale(0.929,1)">N</text><text transform="translate(543.73,626.10) scale(0.821,1)">E</text><text transform="translate(559.00,626.10) scale(0.940,1)">X</text><text transform="translate(576.47,626.10) scale(0.963,1)">2</text></g>
<g style="font-size:26.62px"><text transform="translate(684.19,626.10) scale(0.885,1)">R</text><text transform="translate(701.06,626.10) scale(1.000,1)">I</text><text transform="translate(708.83,626.10) scale(0.929,1)">N</text><text transform="translate(727.78,626.10) scale(0.821,1)">E</text><text transform="translate(743.05,626.10) scale(0.940,1)">X</text><text transform="translate(760.98,626.10) scale(0.967,1)">3</text></g>
<g style="font-size:26.62px"><text transform="translate(868.19,626.10) scale(0.885,1)">R</text><text transform="translate(885.06,626.10) scale(1.000,1)">I</text><text transform="translate(892.83,626.10) scale(0.929,1)">N</text><text transform="translate(911.78,626.10) scale(0.821,1)">E</text><text transform="translate(927.05,626.10) scale(0.940,1)">X</text><text transform="translate(944.73,626.10) scale(0.981,1)">4</text></g>
<g style="font-size:20.7px;font-style:italic"><text transform="translate(18.56,709.70) scale(1.014,1)">T</text><text transform="translate(29.60,709.70) scale(1.018,1)">u</text><text transform="translate(41.97,709.70) scale(1.004,1)">e</text><text transform="translate(59.92,709.70) scale(0.948,1)">M</text><text transform="translate(77.03,709.70) scale(0.978,1)">a</text><text transform="translate(88.87,709.70) scale(1.186,1)">r</text><text transform="translate(102.32,709.70) scale(1.030,1)">3</text><text transform="translate(115.49,709.70) scale(0.939,1)">1</text><text transform="translate(134.04,709.70) scale(0.939,1)">1</text><text transform="translate(145.60,709.70) scale(1.030,1)">3</text><text transform="translate(158.57,709.70) scale(0.990,1)">:</text><text transform="translate(164.51,709.70) scale(1.030,1)">3</text><text transform="translate(177.23,709.70) scale(0.996,1)">5</text><text transform="translate(189.85,709.70) scale(0.990,1)">:</text><text transform="translate(196.37,709.70) scale(0.991,1)">2</text><text transform="translate(209.09,709.70) scale(0.968,1)">6</text><text transform="translate(227.29,709.70) scale(0.991,1)">2</text><text transform="translate(239.62,709.70) scale(1.002,1)">0</text><text transform="translate(252.02,709.70) scale(0.991,1)">2</text><text transform="translate(264.73,709.70) scale(0.968,1)">6</text></g>
<g style="font-size:20.7px;font-style:italic"><text transform="translate(822.53,710.00) scale(0.978,1)">©</text><text transform="translate(839.90,710.00) scale(0.935,1)">G</text><text transform="translate(854.89,710.00) scale(0.940,1)">N</text><text transform="translate(869.04,710.00) scale(0.896,1)">S</text><text transform="translate(880.68,710.00) scale(0.896,1)">S</text><text transform="translate(892.55,710.00) scale(0.992,1)">@</text><text transform="translate(912.95,710.00) scale(0.812,1)">R</text><text transform="translate(926.30,710.00) scale(0.943,1)">O</text><text transform="translate(941.68,710.00) scale(0.933,1)">B</text></g>
</svg>
</body></html>
